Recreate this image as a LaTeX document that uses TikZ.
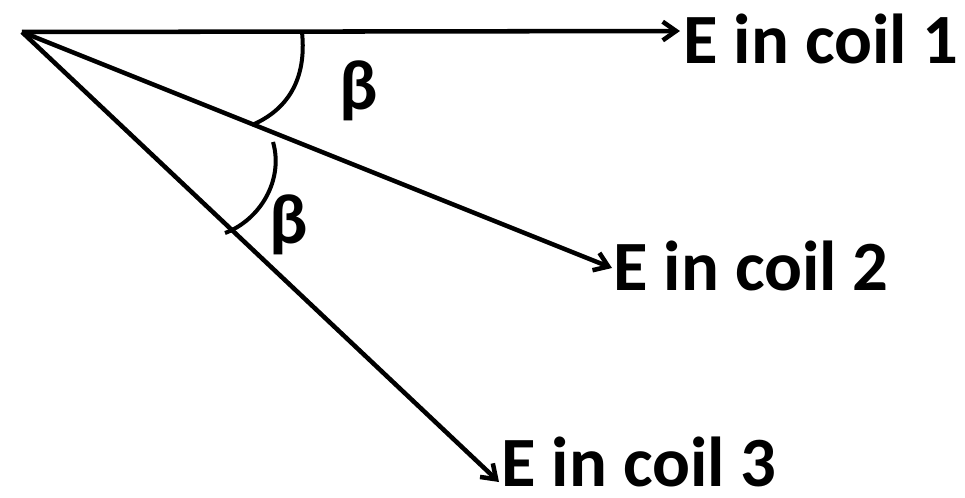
\documentclass[tikz,border=0pt]{standalone}
\usepackage{fontspec}
\setmainfont{Carlito}
\usetikzlibrary{arrows.meta}
\begin{document}
\begin{tikzpicture}[x=0.75pt, y=-0.75pt, >={Straight Barb[length=10pt,width=14pt]},
    vec/.style={line width=3.4pt, ->},
    angmark/.style={line width=3pt},
    lbl/.style={anchor=base west, inner sep=0pt, font=\bfseries\fontsize{53}{60}\selectfont}]
  \useasboundingbox (0,0) rectangle (965,497);
  \coordinate (o) at (22,32);
  \coordinate (tip1) at (680,31);
  \coordinate (tip2) at (612,268);
  \coordinate (tip3) at (499,482);
  \draw[vec] (o) -- (tip1);
  \draw[vec] (o) -- (tip2);
  \draw[vec] (o) -- (tip3);
  \draw[angmark] (302,32) .. controls (307,80) and (287,110) .. (252,125);
  \draw[angmark] (273,142) .. controls (284,180) and (260,220) .. (225,233);
  \node[lbl] (coil1) at (683,63) {E in coil 1};
  \node[lbl] (coil2) at (613,290) {E in coil 2};
  \node[lbl] (coil3) at (501,486) {E in coil 3};
  \node[font=\bfseries\fontsize{53}{60}\selectfont] (beta1) at (359,91) {β};
  \node[font=\bfseries\fontsize{53}{60}\selectfont] (beta2) at (289,225) {β};
\end{tikzpicture}
\end{document}
